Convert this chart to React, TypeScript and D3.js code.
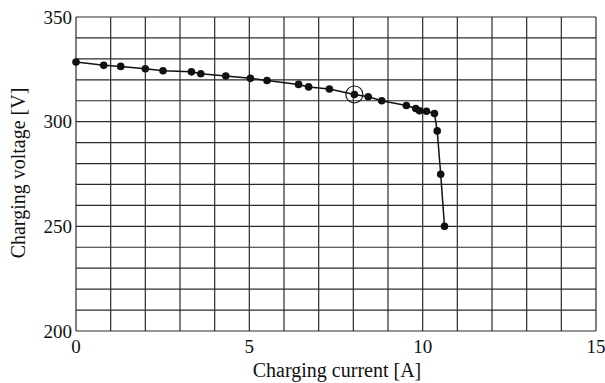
import * as d3 from 'd3';

// readings
const currents = [0, 0.8, 1.29, 2.0, 2.51, 3.33, 3.6, 4.32, 5.03, 5.51, 6.42, 6.71, 7.31, 8.03, 8.43, 8.82, 9.53, 9.8, 9.91, 10.11, 10.34, 10.42, 10.52, 10.63];
const voltages = [328.5, 326.9, 326.4, 325.3, 324.3, 323.8, 322.9, 321.8, 320.7, 319.7, 317.8, 316.6, 315.6, 313.0, 311.9, 310.0, 307.7, 306.3, 305.2, 305.0, 303.9, 295.6, 274.9, 250];
const markedIndex = 13; // circled point

const xTicks = [0, 5, 10, 15];
const yTicks = [200, 250, 300, 350];
const xGrid = d3.range(0, 16, 1);
const yGrid = d3.range(200, 351, 10);

const width = 605;
const height = 383;
const margin = { left: 76, right: 9, top: 17, bottom: 52 };

export default function App() {
  const x = d3.scaleLinear().domain([0, 15]).range([margin.left, width - margin.right]);
  const y = d3.scaleLinear().domain([200, 350]).range([height - margin.bottom, margin.top]);

  const points = currents.map((c, i) => [c, voltages[i]] as [number, number]);
  const line = d3.line<[number, number]>().x(d => x(d[0])).y(d => y(d[1]));

  const font = '"Liberation Serif", "Times New Roman", serif';
  const gridColor = '#2a2a2a';

  return (
    <svg width={width} height={height} style={{ position: 'fixed', left: 0, top: 0, background: '#fff' }}>
      <g>
        {xGrid.map(v => (
          <line key={'x' + v} x1={x(v)} x2={x(v)} y1={y(200)} y2={y(350)} stroke={gridColor} strokeWidth={1.2} />
        ))}
        {yGrid.map(v => (
          <line key={'y' + v} x1={x(0)} x2={x(15)} y1={y(v)} y2={y(v)} stroke={gridColor} strokeWidth={1.2} />
        ))}
      </g>

      {/* tick labels */}
      {xTicks.map(v => (
        <text key={'xt' + v} x={x(v)} y={y(200) + 22} textAnchor="middle" fontFamily={font} fontSize={19} fill="#111">
          {v}
        </text>
      ))}
      {yTicks.map(v => (
        <text key={'yt' + v} x={x(0) - 4} y={y(v)} dy="0.35em" textAnchor="end" fontFamily={font} fontSize={19} fill="#111">
          {v}
        </text>
      ))}

      {/* curve */}
      <path d={line(points) || ''} fill="none" stroke="#111" strokeWidth={1.5} />
      {points.map((d, i) => (
        <circle key={'p' + i} cx={x(d[0])} cy={y(d[1])} r={3.8} fill="#111" />
      ))}
      <circle cx={x(currents[markedIndex])} cy={y(voltages[markedIndex])} r={8.5} fill="none" stroke="#111" strokeWidth={1.1} />

      {/* axis titles */}
      <text x={337} y={377} textAnchor="middle" fontFamily={font} fontSize={20} fill="#111">
        Charging current [A]
      </text>
      <text transform={`translate(25,173) rotate(-90)`} textAnchor="middle" fontFamily={font} fontSize={20} fill="#111">
        Charging voltage [V]
      </text>
    </svg>
  );
}
